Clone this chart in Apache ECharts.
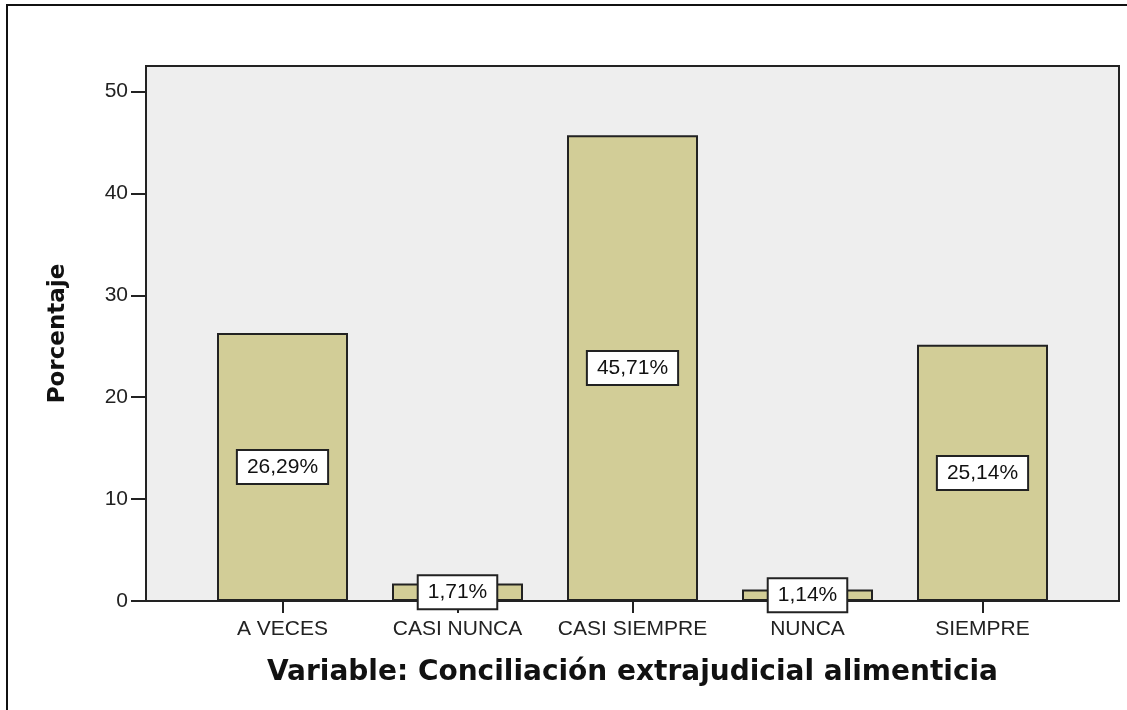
<!DOCTYPE html>
<html>
<head>
<meta charset="utf-8">
<script src="https://cdn.jsdelivr.net/npm/echarts@6/dist/echarts.min.js"></script>
<style>
  html, body { margin: 0; padding: 0; background: #fff; }
  #main { width: 1127px; height: 710px; }
</style>
</head>
<body>
<div id="main"></div>
<script>
// categorías y porcentajes
const categorias = ['A VECES', 'CASI NUNCA', 'CASI SIEMPRE', 'NUNCA', 'SIEMPRE'];
const porcentajes = [26.29, 1.71, 45.71, 1.14, 25.14];
const tituloX = 'Variable: Conciliación extrajudicial alimenticia';
const tituloY = 'Porcentaje';

const myChart = echarts.init(document.getElementById('main'));

const fuente = '"Liberation Sans", Arial, sans-serif';
const fuenteTitulo = '"DejaVu Sans", Verdana, sans-serif';
const yMax = 52.5;

option = {
    backgroundColor: '#fff',
    animation: false,
    // marco exterior (solo se ven los bordes izquierdo y superior)
    graphic: [{
        type: 'rect',
        shape: {x: 7, y: 5, width: 1140, height: 720},
        style: {fill: 'none', stroke: '#111', lineWidth: 2}
    }],
    grid: [
        // fondo gris del área de trazado
        {left: 146, top: 66, right: 8, bottom: 109, show: true,
         backgroundColor: '#eeeeee', borderColor: '#222', borderWidth: 2},
        // área de las barras, con margen a ambos lados
        {left: 195, top: 66, width: 875, bottom: 109}
    ],
    xAxis: [
        {gridIndex: 0, type: 'value', show: false, min: 0, max: 1},
        {
            gridIndex: 1,
            type: 'category',
            data: categorias,
            axisLine: {show: false},
            axisTick: {show: true, alignWithLabel: true, length: 12,
                       lineStyle: {color: '#222', width: 2}},
            axisLabel: {color: '#222', fontSize: 21, fontFamily: fuente, margin: 18,
                        interval: 0},
            name: tituloX,
            nameLocation: 'middle',
            nameGap: 58,
            nameTextStyle: {color: '#111', fontSize: 28, fontWeight: 'bold',
                            fontFamily: fuenteTitulo}
        }
    ],
    yAxis: [
        {
            gridIndex: 0,
            type: 'value',
            min: 0,
            max: yMax,
            interval: 10,
            axisLine: {show: true, lineStyle: {color: '#222', width: 2}},
            axisTick: {show: true, length: 15, lineStyle: {color: '#222', width: 2}},
            axisLabel: {color: '#222', fontSize: 21, fontFamily: fuente, margin: 18,
                        showMaxLabel: false},
            splitLine: {show: false},
            name: tituloY,
            nameLocation: 'middle',
            nameGap: 76,
            nameTextStyle: {color: '#111', fontSize: 23, fontWeight: 'bold',
                            fontFamily: fuenteTitulo}
        },
        {gridIndex: 1, type: 'value', min: 0, max: yMax, show: false}
    ],
    series: [{
        type: 'bar',
        xAxisIndex: 1,
        yAxisIndex: 1,
        data: porcentajes,
        barWidth: 131,
        itemStyle: {color: '#d2cd97', borderColor: '#222', borderWidth: 2},
        label: {
            show: true,
            position: 'inside',
            formatter: p => p.value.toFixed(2).replace('.', ',') + '%',
            color: '#111',
            fontSize: 21,
            fontFamily: fuente,
            backgroundColor: '#fff',
            borderColor: '#222',
            borderWidth: 2,
            padding: [6, 9, 5, 9]
        }
    }]
};
myChart.setOption(option);
</script>
</body>
</html>
